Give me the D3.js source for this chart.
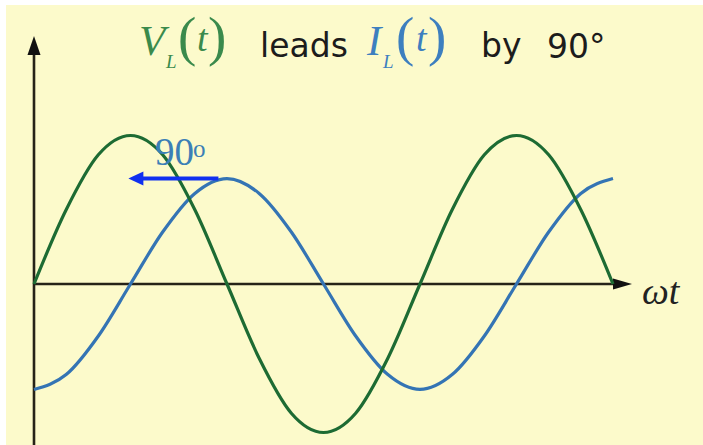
<!DOCTYPE html>
<html>
<head>
<meta charset="utf-8">
<script src="https://cdn.jsdelivr.net/npm/d3@7"></script>
<style>
  html, body { margin: 0; padding: 0; background: #ffffff; }
  svg { display: block; }
</style>
</head>
<body>
<svg id="chart" width="703" height="445"></svg>
<script>
// Phase angle ωt in degrees, sampled every 30°
const phaseDeg = [0, 30, 60, 90, 120, 150, 180, 210, 240, 270, 300, 330, 360, 390, 420, 450, 480, 510, 540];
// Inductor voltage V_L(t), normalised to its peak
const voltage = [0, 0.5, 0.87, 1, 0.87, 0.5, 0, -0.5, -0.87, -1, -0.87, -0.5, 0, 0.5, 0.87, 1, 0.87, 0.5, 0];
// Inductor current I_L(t), same scale, lagging by 90°
const current = [-0.71, -0.61, -0.35, 0, 0.35, 0.61, 0.71, 0.61, 0.35, 0, -0.35, -0.61, -0.71, -0.61, -0.35, 0, 0.35, 0.61, 0.71];
// Phase-shift marker: from the current peak back to the voltage peak
const shiftFrom = 172, shiftTo = 88, shiftLevel = 0.71;

const W = 703, H = 445;
const svg = d3.select("#chart");

const bg = "#fcfacb";
svg.append("rect").attr("x", 6).attr("y", 5).attr("width", W - 6).attr("height", H - 5).attr("fill", bg);

const x = d3.scaleLinear().domain([0, 540]).range([34, 613]);
const y = d3.scaleLinear().domain([-1, 1]).range([432.5, 135.5]);

const axisColor = "#262318";

// vertical axis with arrow
svg.append("line").attr("x1", x(0)).attr("x2", x(0)).attr("y1", 50).attr("y2", H)
  .attr("stroke", axisColor).attr("stroke-width", 2.6);
svg.append("path")
  .attr("d", `M${x(0)},36 L${x(0) + 6.5},55 L${x(0) - 6.5},55 Z`)
  .attr("fill", "#111");

// horizontal axis with arrow
svg.append("line").attr("x1", x(0)).attr("x2", 620).attr("y1", y(0)).attr("y2", y(0))
  .attr("stroke", axisColor).attr("stroke-width", 2.6);
svg.append("path")
  .attr("d", `M632,${y(0)} L613,${y(0) - 5.5} L613,${y(0) + 5.5} Z`)
  .attr("fill", "#111");

const line = d3.line().x((d, i) => x(phaseDeg[i])).y(d => y(d)).curve(d3.curveMonotoneX);

svg.append("path").datum(current).attr("d", line)
  .attr("fill", "none").attr("stroke", "#3474b4").attr("stroke-width", 3.2);
svg.append("path").datum(voltage).attr("d", line)
  .attr("fill", "none").attr("stroke", "#1d6b33").attr("stroke-width", 3.2);

// phase-shift arrow
const arrowBlue = "#1030f0";
svg.append("line")
  .attr("x1", x(shiftFrom)).attr("x2", x(shiftTo) + 12)
  .attr("y1", y(shiftLevel)).attr("y2", y(shiftLevel))
  .attr("stroke", arrowBlue).attr("stroke-width", 4);
svg.append("path")
  .attr("d", `M${x(shiftTo)},${y(shiftLevel)} L${x(shiftTo) + 15},${y(shiftLevel) - 7} L${x(shiftTo) + 15},${y(shiftLevel) + 7} Z`)
  .attr("fill", arrowBlue);

const serif = "'Liberation Serif', 'DejaVu Serif', serif";
const sans = "'DejaVu Sans', 'Liberation Sans', sans-serif";

svg.append("text").attr("x", 155).attr("y", 165)
  .attr("font-family", serif).attr("font-size", 39).attr("fill", "#3c7fb6").text("90");
svg.append("text").attr("x", 193).attr("y", 157)
  .attr("font-family", serif).attr("font-size", 25).attr("fill", "#3c7fb6").text("o");

// ωt axis label
svg.append("text").attr("x", 642).attr("y", 304)
  .attr("font-family", serif).attr("font-style", "italic").attr("font-size", 38)
  .attr("fill", "#222").text("ωt");

// title
const green = "#3a8a4c", blue = "#3d7fbf", ink = "#1c1c1c";
const title = svg.append("g");
function t(txt, xx, yy, size, color, opts = {}) {
  title.append("text").attr("x", xx).attr("y", yy)
    .attr("font-family", opts.family || serif)
    .attr("font-style", opts.italic ? "italic" : "normal")
    .attr("font-size", size).attr("fill", color).text(txt);
}
t("V", 139, 55, 43, green, { italic: true });
t("L", 166, 68, 19, green, { italic: true });
t("(", 178, 55, 55, green);
t("t", 197, 51, 38, green, { italic: true });
t(")", 208, 55, 55, green);
t("leads", 260, 57, 33, ink, { family: sans });
t("I", 367, 55, 43, blue, { italic: true });
t("L", 383, 68, 19, blue, { italic: true });
t("(", 396, 55, 55, blue);
t("t", 416, 51, 38, blue, { italic: true });
t(")", 428, 55, 55, blue);
t("by", 481, 57, 33, ink, { family: sans });
t("90°", 547, 58, 33, ink, { family: sans });
</script>
</body>
</html>
